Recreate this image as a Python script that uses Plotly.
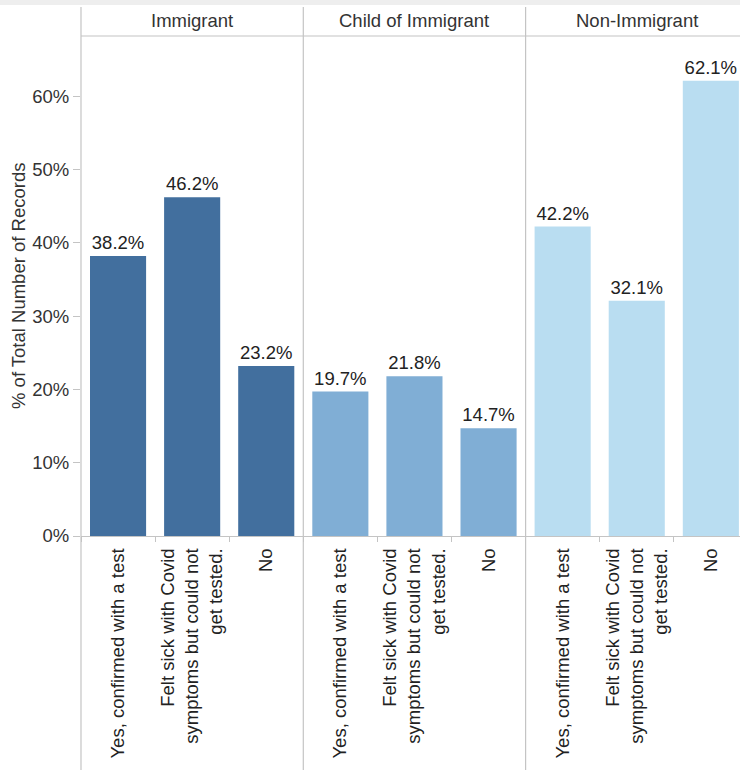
import plotly.graph_objects as go
from plotly.subplots import make_subplots

groups = ["Immigrant", "Child of Immigrant", "Non-Immigrant"]
categories = ["Yes, confirmed with a test",
              "Felt sick with Covid<br>symptoms but could not<br>get tested.",
              "No"]
values = {
    "Immigrant": [38.2, 46.2, 23.2],
    "Child of Immigrant": [19.7, 21.8, 14.7],
    "Non-Immigrant": [42.2, 32.1, 62.1],
}
colors = {"Immigrant": "#426f9e", "Child of Immigrant": "#80aed5", "Non-Immigrant": "#b9ddf1"}
y_ticks = [0, 10, 20, 30, 40, 50, 60]
y_title = "% of Total Number of Records"

W, H = 740, 770
L, T, B = 81, 36, 234
pw = W - L
ph = H - T - B
fw = 222.3
doms = [(0, fw / pw), (fw / pw, 2 * fw / pw), (2 * fw / pw, 1.0)]

fig = make_subplots(rows=1, cols=3, shared_yaxes=True, horizontal_spacing=0)
FONT = "Liberation Sans, Arial, sans-serif"
TXT = "#333333"
GRID = "#c4c4c4"
FS = 18.5

for i, g in enumerate(groups):
    fig.add_trace(go.Bar(
        x=categories, y=values[g], marker_color=colors[g], marker_line_width=0,
        width=0.757, text=[f"{v:.1f}%" for v in values[g]], textposition="outside",
        textfont=dict(size=FS, color="#222222", family=FONT), cliponaxis=False,
        showlegend=False, hoverinfo="skip"), row=1, col=i + 1)
    ax = "xaxis" if i == 0 else f"xaxis{i+1}"
    rng = [-0.5, 2.5] if i < 2 else [-0.5, -0.5 + 3 * (pw - 2 * fw) / fw]
    fig.layout[ax].update(domain=list(doms[i]), range=rng, type="category",
                          tickangle=-90, tickson="boundaries", ticks="outside",
                          ticklen=5, tickcolor=GRID, showline=True, linecolor=GRID,
                          linewidth=1, showgrid=False, ticklabelstandoff=4,
                          tickfont=dict(size=FS, color="#222222", family=FONT))

fig.update_yaxes(range=[0, 68.2], tickvals=y_ticks, ticktext=[f"{v}%" for v in y_ticks],
                 showgrid=False, zeroline=False, showline=False, ticks="",
                 tickfont=dict(size=FS, color=TXT, family=FONT))
fig.update_yaxes(ticks="outside", ticklen=7, tickcolor=GRID, row=1, col=1)

shapes = []
# top band
shapes.append(dict(type="rect", xref="paper", yref="paper", x0=-L / pw, x1=1,
                   y0=1 + (T - 5) / ph, y1=1 + T / ph,
                   fillcolor="#eeeeee", line_width=0, layer="below"))
# vertical lines: left axis and facet dividers
for xpx in [0, fw, 2 * fw]:
    shapes.append(dict(type="line", xref="paper", yref="paper", x0=xpx / pw, x1=xpx / pw,
                       y0=-B / ph, y1=1 + (T - 7) / ph, line=dict(color=GRID, width=1.2)))
# header bottom line
shapes.append(dict(type="line", xref="paper", yref="paper", x0=0, x1=1, y0=1, y1=1,
                   line=dict(color=GRID, width=1.2)))
fig.update_layout(shapes=shapes)

ann = []
for i, g in enumerate(groups):
    c = (i * fw + fw / 2) / pw
    ann.append(dict(text=g, xref="paper", yref="paper", x=c, y=1 + 15 / ph,
                    showarrow=False, font=dict(size=FS, color=TXT, family=FONT),
                    xanchor="center", yanchor="middle"))
ann.append(dict(text=y_title, xref="paper", yref="paper", x=(18 - L) / pw, y=0.5,
                textangle=-90, showarrow=False, xanchor="center", yanchor="middle",
                font=dict(size=FS, color=TXT, family=FONT)))
fig.update_layout(annotations=ann)

fig.update_layout(width=W, height=H, margin=dict(l=L, r=0, t=T, b=B),
                  paper_bgcolor="white", plot_bgcolor="white", bargap=0.24,
                  font=dict(family=FONT, color=TXT))
fig.write_html("out.html", config={"displayModeBar": False},
               post_script="document.body.style.margin='0';")
